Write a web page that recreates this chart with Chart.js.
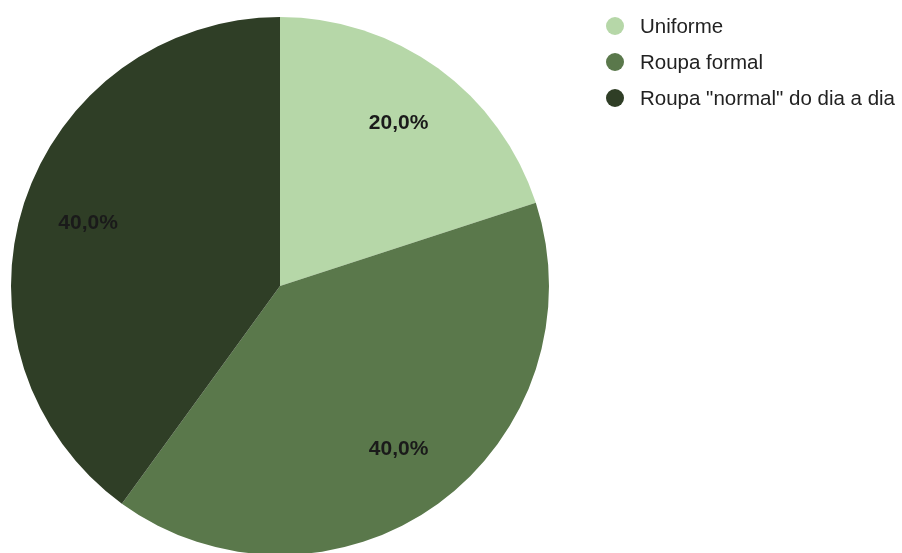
<!DOCTYPE html>
<html>
<head>
<meta charset="utf-8">
<script src="https://cdn.jsdelivr.net/npm/chart.js@4.4.0/dist/chart.umd.min.js"></script>
<style>
	html, body { margin: 0; padding: 0; background: #fff; overflow: hidden; }
	#wrap { position: relative; width: 902px; height: 556px; }
</style>
</head>
<body>
<div id="wrap"><canvas id="chart"></canvas></div>
<script>
var categories = ["Uniforme", "Roupa formal", "Roupa \"normal\" do dia a dia"];
var shares = [20, 40, 40];
var sliceColors = ["#b6d7a8", "#5a784b", "#2f3e26"];

// percentage text inside each slice, at 3/4 of the radius
var sliceLabels = {
	id: "sliceLabels",
	afterDatasetsDraw: function (chart) {
		var ctx = chart.ctx;
		var meta = chart.getDatasetMeta(0);
		var total = shares.reduce(function (a, b) { return a + b; }, 0);
		ctx.save();
		ctx.font = "bold 21px 'Liberation Sans', Arial, sans-serif";
		ctx.fillStyle = "#1a1a1a";
		ctx.textAlign = "center";
		ctx.textBaseline = "middle";
		meta.data.forEach(function (arc, i) {
			var p = arc.getProps(["x", "y", "startAngle", "endAngle", "outerRadius"], true);
			var mid = (p.startAngle + p.endAngle) / 2;
			var d = p.outerRadius * 0.75;
			var txt = (shares[i] / total * 100).toFixed(1).replace(".", ",") + "%";
			ctx.fillText(txt, p.x + Math.cos(mid) * d, p.y + Math.sin(mid) * d);
		});
		ctx.restore();
	}
};

// legend at the top right, dots and names
var sideLegend = {
	id: "sideLegend",
	afterDraw: function (chart) {
		var ctx = chart.ctx;
		var colors = chart.data.datasets[0].backgroundColor;
		ctx.save();
		ctx.font = "20.5px 'Liberation Sans', Arial, sans-serif";
		ctx.textBaseline = "middle";
		ctx.textAlign = "left";
		chart.data.labels.forEach(function (name, i) {
			var y = 26 + i * 36;
			ctx.fillStyle = colors[i];
			ctx.beginPath();
			ctx.arc(615, y, 9, 0, Math.PI * 2);
			ctx.fill();
			ctx.fillStyle = "#222";
			ctx.fillText(name, 640, y + 1);
		});
		ctx.restore();
	}
};

new Chart(document.getElementById("chart"), {
	type: "pie",
	data: {
		labels: categories,
		datasets: [{
			data: shares,
			backgroundColor: sliceColors,
			borderWidth: 0,
			hoverOffset: 0
		}]
	},
	options: {
		responsive: true,
		maintainAspectRatio: false,
		animation: false,
		layout: { padding: { left: 11, right: 353, top: 17, bottom: 1 } },
		plugins: {
			legend: { display: false },
			tooltip: { enabled: false }
		}
	},
	plugins: [sliceLabels, sideLegend]
});
</script>
</body>
</html>
